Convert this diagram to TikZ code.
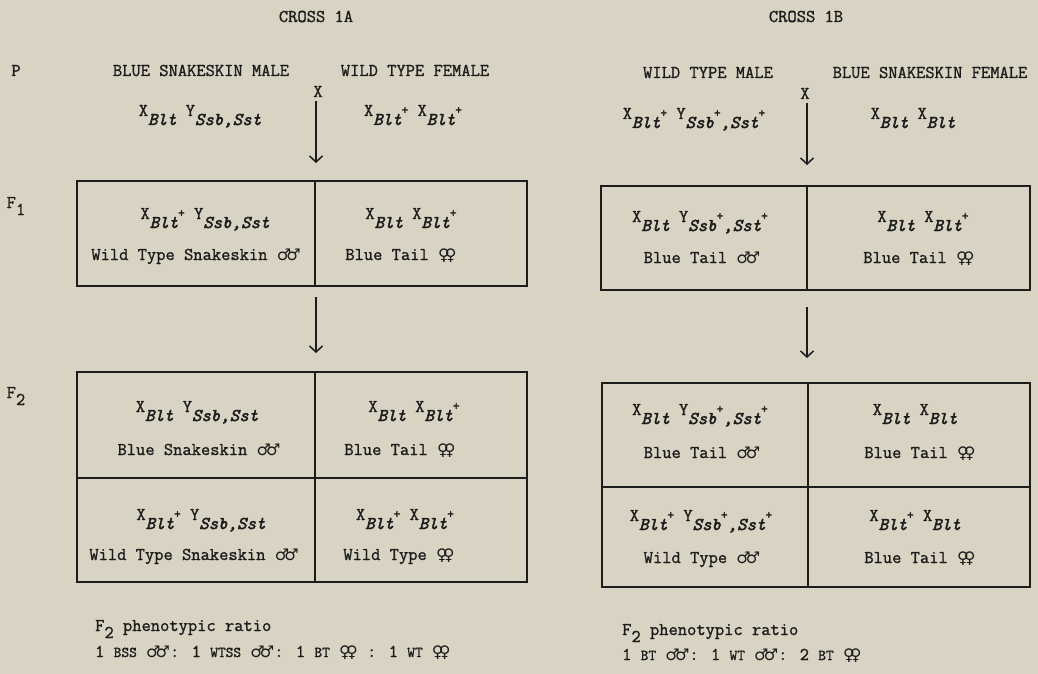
\documentclass[tikz,border=0pt]{standalone}
\usepackage{fontspec}
\setmainfont{Latin Modern Mono}[FakeBold=1.2]
\newfontfamily\subfont{Latin Modern Mono}[FakeBold=2.5]
\newfontfamily\symfont{DejaVu Sans}
\usetikzlibrary{arrows.meta}
\definecolor{paper}{RGB}{216,211,194}
\definecolor{ink}{RGB}{28,28,28}
\newcommand{\gsub}[1]{\raisebox{-9pt}{\subfont\itshape #1}}
\newcommand{\gplus}{\raisebox{2pt}{\subfont\fontsize{13}{13}\selectfont +}}
\newcommand{\mm}{{\symfont\fontsize{16}{16}\selectfont ♂\kern-0.3em♂}}
\newcommand{\ff}{{\symfont\fontsize{16}{16}\selectfont ♀\kern-0.3em♀}}
\newcommand{\sm}[1]{{\fontsize{15}{15}\selectfont #1}}
\begin{document}
\begin{tikzpicture}[x=1pt,y=-1pt,
  every node/.style={text=ink,font=\fontsize{18}{18}\selectfont,inner sep=0pt},
  lbl/.style={anchor=base},
  lblw/.style={anchor=base west},
  cell/.style={draw=ink,line width=1.7pt,inner sep=0pt},
  arr/.style={draw=ink,line width=1.5pt,-{Straight Barb[length=6pt,width=13pt,line width=1.5pt]}}]
\fill[paper] (0,0) rectangle (1038,674);
\useasboundingbox (0,0) rectangle (1038,674);

% ---------------- CROSS 1A ----------------
\node[lbl] (c1a) at (316,22) {CROSS 1A};
\node[lbl] (p) at (16,76) {P};
\node[lbl] (pm1) at (201,76) {BLUE SNAKESKIN MALE};
\node[lbl] (pf1) at (415,76) {WILD TYPE FEMALE};
\node[lbl] (x1) at (318,97) {X};
\node[lbl] (gm1) at (200,116) {X\gsub{Blt} Y\gsub{Ssb,Sst}};
\node[lbl] (gf1) at (413,116) {X\gsub{Blt}\gplus{} X\gsub{Blt}\gplus};

\node[lbl] (f1) at (16,208) {F\raisebox{-7pt}{1}};
\node[lbl] (f2) at (16,398) {F\raisebox{-7pt}{2}};

% F1 box
\node[cell,minimum width=238,minimum height=105] (a11) at (196,233.5) {};
\node[cell,minimum width=212,minimum height=105] (a12) at (421,233.5) {};
% F2 box
\node[cell,minimum width=238,minimum height=106] (a21) at (196,425) {};
\node[cell,minimum width=212,minimum height=106] (a22) at (421,425) {};
\node[cell,minimum width=238,minimum height=104] (a23) at (196,530) {};
\node[cell,minimum width=212,minimum height=104] (a24) at (421,530) {};

\coordinate (s1) at (316,101);
\coordinate (e1) at (316,163);
\coordinate (s2) at (316,297);
\coordinate (e2) at (316,353);
\draw[arr] (s1) -- (e1);
\draw[arr] (s2) -- (e2);

\node[lbl] (t11g) at (205,219) {X\gsub{Blt}\gplus{} Y\gsub{Ssb,Sst}};
\node[lbl] (t11p) at (196,260) {Wild Type Snakeskin \mm};
\node[lbl] (t12g) at (411,219) {X\gsub{Blt} X\gsub{Blt}\gplus};
\node[lbl] (t12p) at (401,260) {Blue Tail \ff};

\node[lbl] (t21g) at (197,412) {X\gsub{Blt} Y\gsub{Ssb,Sst}};
\node[lbl] (t21p) at (199,455) {Blue Snakeskin \mm};
\node[lbl] (t22g) at (414,412) {X\gsub{Blt} X\gsub{Blt}\gplus};
\node[lbl] (t22p) at (400,455) {Blue Tail \ff};
\node[lbl] (t23g) at (201,520) {X\gsub{Blt}\gplus{} Y\gsub{Ssb,Sst}};
\node[lbl] (t23p) at (194,560) {Wild Type Snakeskin \mm};
\node[lbl] (t24g) at (405,520) {X\gsub{Blt}\gplus{} X\gsub{Blt}\gplus};
\node[lbl] (t24p) at (399,560) {Wild Type \ff};

\node[lblw] (r1a) at (95,631) {F\raisebox{-7pt}{2} phenotypic ratio};
\node[lblw] (r1b) at (95,657) {1 \sm{BSS} \mm: 1 \sm{WTSS} \mm: 1 \sm{BT} \ff{} : 1 \sm{WT} \ff};

% ---------------- CROSS 1B ----------------
\node[lbl] (c1b) at (806,22) {CROSS 1B};
\node[lbl] (pm2) at (708,78) {WILD TYPE MALE};
\node[lbl] (pf2) at (930,78) {BLUE SNAKESKIN FEMALE};
\node[lbl] (x2) at (805,99) {X};
\node[lbl] (gm2) at (694,119) {X\gsub{Blt}\gplus{} Y\gsub{Ssb}\gplus\gsub{,Sst}\gplus};
\node[lbl] (gf2) at (913,119) {X\gsub{Blt} X\gsub{Blt}};

\node[cell,minimum width=206,minimum height=104] (b11) at (704,238) {};
\node[cell,minimum width=223,minimum height=104] (b12) at (918.5,238) {};
\node[cell,minimum width=206,minimum height=104] (b21) at (705,435) {};
\node[cell,minimum width=222,minimum height=104] (b22) at (919,435) {};
\node[cell,minimum width=206,minimum height=100] (b23) at (705,537) {};
\node[cell,minimum width=222,minimum height=100] (b24) at (919,537) {};

\coordinate (s3) at (807,103);
\coordinate (e3) at (807,165);
\coordinate (s4) at (807,307);
\coordinate (e4) at (807,358);
\draw[arr] (s3) -- (e3);
\draw[arr] (s4) -- (e4);

\node[lbl] (u11g) at (700,222) {X\gsub{Blt} Y\gsub{Ssb}\gplus\gsub{,Sst}\gplus};
\node[lbl] (u11p) at (702,263) {Blue Tail \mm};
\node[lbl] (u12g) at (923,222) {X\gsub{Blt} X\gsub{Blt}\gplus};
\node[lbl] (u12p) at (919,263) {Blue Tail \ff};

\node[lbl] (u21g) at (700,415) {X\gsub{Blt} Y\gsub{Ssb}\gplus\gsub{,Sst}\gplus};
\node[lbl] (u21p) at (702,458) {Blue Tail \mm};
\node[lbl] (u22g) at (915,415) {X\gsub{Blt} X\gsub{Blt}};
\node[lbl] (u22p) at (920,458) {Blue Tail \ff};
\node[lbl] (u23g) at (701,521) {X\gsub{Blt}\gplus{} Y\gsub{Ssb}\gplus\gsub{,Sst}\gplus};
\node[lbl] (u23p) at (702,563) {Wild Type \mm};
\node[lbl] (u24g) at (915,521) {X\gsub{Blt}\gplus{} X\gsub{Blt}};
\node[lbl] (u24p) at (920,563) {Blue Tail \ff};

\node[lblw] (r2a) at (622,635) {F\raisebox{-7pt}{2} phenotypic ratio};
\node[lblw] (r2b) at (622,660) {1 \sm{BT} \mm: 1 \sm{WT} \mm: 2 \sm{BT} \ff};
\end{tikzpicture}
\end{document}
